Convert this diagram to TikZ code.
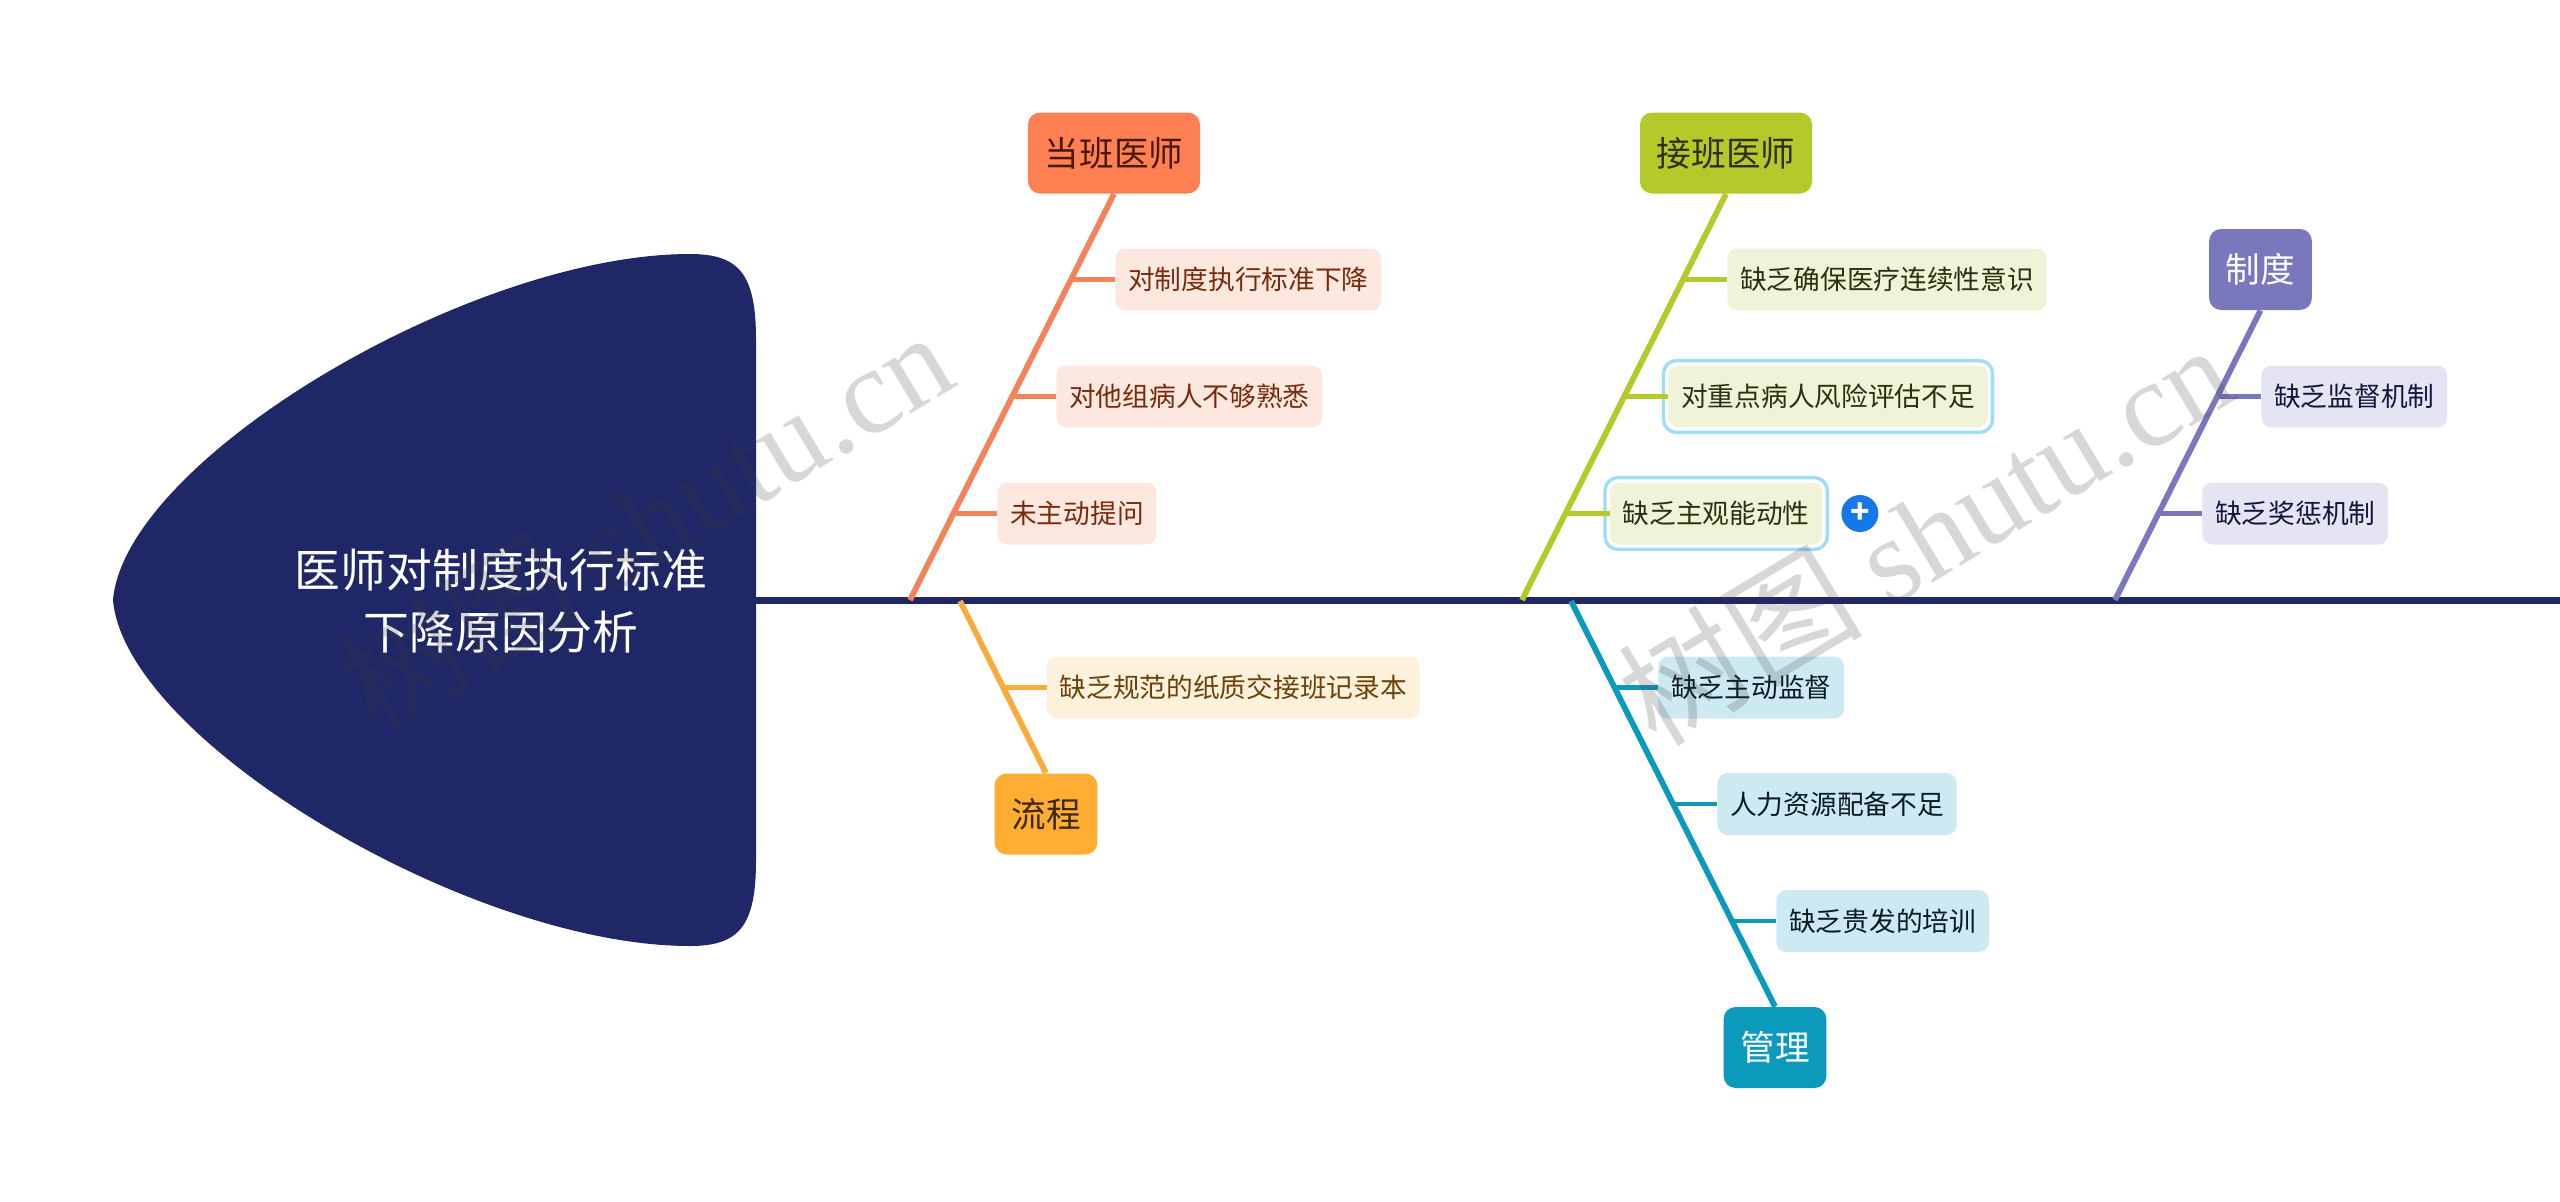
\documentclass[tikz,border=0pt]{standalone}
\usepackage{fontspec}
\setmainfont{Noto Sans CJK SC}
\newfontfamily\markserif{Liberation Serif}
\usetikzlibrary{fit, positioning}

\definecolor{navy}{HTML}{1F2766}
\definecolor{orangeM}{HTML}{FF8052}
\definecolor{orangeB}{HTML}{F2845C}
\definecolor{orangeL}{HTML}{FDE8DF}
\definecolor{orangeT}{HTML}{7A2A0C}
\definecolor{greenM}{HTML}{B5C92B}
\definecolor{greenL}{HTML}{F0F3D8}
\definecolor{greenT}{HTML}{2C3010}
\definecolor{yellowM}{HTML}{FFAD33}
\definecolor{yellowB}{HTML}{F7AC3C}
\definecolor{yellowL}{HTML}{FEF1DC}
\definecolor{yellowT}{HTML}{6B4308}
\definecolor{tealM}{HTML}{0B9ABC}
\definecolor{tealL}{HTML}{CDEAF2}
\definecolor{tealT}{HTML}{0A1A24}
\definecolor{purpleM}{HTML}{7A77BC}
\definecolor{purpleL}{HTML}{E4E4F2}
\definecolor{purpleT}{HTML}{15153C}
\definecolor{selblue}{HTML}{9FDCF5}
\definecolor{plusblue}{HTML}{1677E8}
\definecolor{markgray}{HTML}{404040}

\begin{document}
\begin{tikzpicture}[
    x=0.5pt, y=-0.5pt,
    topic/.style={rectangle, rounded corners=6pt, inner xsep=8.4pt, inner ysep=0pt,
                  minimum height=40.5pt, font=\fontsize{17.3}{20}\selectfont},
    subbox/.style={rectangle, rounded corners=5pt, inner xsep=6.4pt, inner ysep=0pt,
                   minimum height=31pt, anchor=west, font=\fontsize{13.35}{16}\selectfont},
    ring/.style={rectangle, draw=selblue, line width=1.7pt, rounded corners=6.5pt, inner sep=2.25pt},
    bone/.style={line width=2.9pt},
    twig/.style={line width=2.2pt},
    watermark/.style={text=markgray, opacity=0.21, rotate=31, font=\fontsize{61}{70}\selectfont}
]
\useasboundingbox (0,0) rectangle (2560,1201);

% Fish head and spine
\coordinate (headright) at (750,600.5);
\coordinate (spineend) at (2560,600.5);
\draw[navy, line width=3.3pt] (headright) -- (spineend);
\fill[navy] (113,600) .. controls (125,460) and (470,254) .. (690,254)
    .. controls (740,254) and (756,275) .. (756,340) -- (756,860)
    .. controls (756,925) and (740,946) .. (690,946)
    .. controls (470,946) and (125,740) .. (113,600) -- cycle;
\node[text=white, align=center, font=\fontsize{22.9}{31}\selectfont] (title) at (501,601) {医师对制度执行标准\\下降原因分析};

% Upper branches
\node[topic, fill=orangeM, text=orangeT!60!black] (oncall) at (1114,153) {当班医师};
\node[subbox, fill=orangeL, text=orangeT] (oncalla) at (1115,279.5) {对制度执行标准下降};
\node[subbox, fill=orangeL, text=orangeT] (oncallb) at (1056,396.5) {对他组病人不够熟悉};
\node[subbox, fill=orangeL, text=orangeT] (oncallc) at (997,513.5) {未主动提问};

\node[topic, fill=greenM, text=greenT] (takeover) at (1726,153) {接班医师};
\node[subbox, fill=greenL, text=greenT] (takeovera) at (1727,279.5) {缺乏确保医疗连续性意识};
\node[subbox, fill=greenL, text=greenT] (takeoverb) at (1668,396.5) {对重点病人风险评估不足};
\node[subbox, fill=greenL, text=greenT] (takeoverc) at (1609.5,513.5) {缺乏主观能动性};
\node[ring, fit=(takeoverb)] (ringb) {};
\node[ring, fit=(takeoverc)] (ringc) {};
\node[circle, fill=plusblue, text=white, inner sep=0pt, minimum size=18.5pt,
      right=6pt of ringc, font=\fontsize{16}{16}\selectfont\bfseries] (expand) {+};

\node[topic, fill=purpleM, text=white] (system) at (2260.5,269.5) {制度};
\node[subbox, fill=purpleL, text=purpleT] (systema) at (2261,396.5) {缺乏监督机制};
\node[subbox, fill=purpleL, text=purpleT] (systemb) at (2202,513.5) {缺乏奖惩机制};

% Lower branches
\node[topic, fill=yellowM, text=yellowT!60!black] (process) at (1046,814) {流程};
\node[subbox, fill=yellowL, text=yellowT] (processa) at (1046.5,687.5) {缺乏规范的纸质交接班记录本};

\node[topic, fill=tealM, text=white] (manage) at (1775,1047.5) {管理};
\node[subbox, fill=tealL, text=tealT] (managea) at (1658,687.5) {缺乏主动监督};
\node[subbox, fill=tealL, text=tealT] (manageb) at (1717,804) {人力资源配备不足};
\node[subbox, fill=tealL, text=tealT] (managec) at (1776,921) {缺乏贵发的培训};

% Feet of the bones on the spine, and joints of the twigs
\coordinate (oncallfoot) at (910,600);
\coordinate (oncallja) at (1073,279.5);
\coordinate (oncalljb) at (1013,396.5);
\coordinate (oncalljc) at (954,513.5);
\coordinate (takeoverfoot) at (1522,600);
\coordinate (takeoverja) at (1684,279.5);
\coordinate (takeoverjb) at (1625,396.5);
\coordinate (takeoverjc) at (1566,513.5);
\coordinate (systemfoot) at (2115,600);
\coordinate (systemja) at (2219,396.5);
\coordinate (systemjb) at (2160,513.5);
\coordinate (processfoot) at (960,601);
\coordinate (processja) at (1003,687.5);
\coordinate (managefoot) at (1571,601);
\coordinate (manageja) at (1615,687.5);
\coordinate (managejb) at (1673,804);
\coordinate (managejc) at (1732,921);

% Bones
\draw[bone, orangeB] (oncall.south) -- (oncallfoot);
\draw[bone, greenM] (takeover.south) -- (takeoverfoot);
\draw[bone, purpleM] (system.south) -- (systemfoot);
\draw[bone, yellowB] (process.north) -- (processfoot);
\draw[bone, tealM] (manage.north) -- (managefoot);

% Twigs
\foreach \sub/\joint in {oncalla/oncallja, oncallb/oncalljb, oncallc/oncalljc}
    \draw[twig, orangeB] (\joint) -- (\sub.west);
\foreach \sub/\joint in {takeovera/takeoverja, takeoverb/takeoverjb, takeoverc/takeoverjc}
    \draw[twig, greenM] (\joint) -- (\sub.west);
\foreach \sub/\joint in {systema/systemja, systemb/systemjb}
    \draw[twig, purpleM] (\joint) -- (\sub.west);
\draw[twig, yellowB] (processja) -- (processa.west);
\foreach \sub/\joint in {managea/manageja, manageb/managejb, managec/managejc}
    \draw[twig, tealM] (\joint) -- (\sub.west);

% Watermarks
\node[watermark] (markleft) at (645,520) {树图 {\markserif shutu.cn}};
\node[watermark] (markright) at (1925,533) {树图 {\markserif shutu.cn}};

\end{tikzpicture}
\end{document}
